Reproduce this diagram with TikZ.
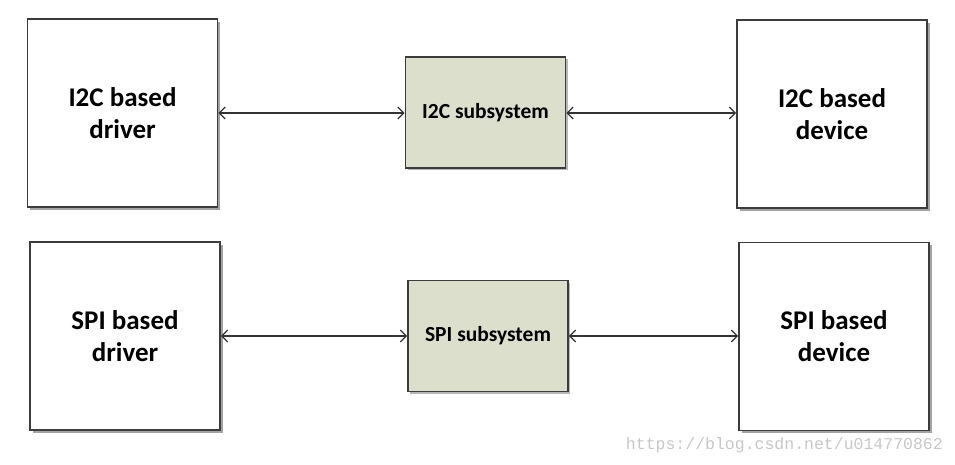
\documentclass[tikz,border=0pt]{standalone}
\usepackage{fontspec}
\setmainfont{Carlito}
\newfontfamily\markfont{Liberation Mono}
\usetikzlibrary{arrows.meta, shadows}
\definecolor{subFill}{RGB}{221,223,205}
\definecolor{boxLine}{RGB}{60,60,60}

\begin{document}
\begin{tikzpicture}[
		x=1pt, y=-1pt,
		bigbox/.style={draw=boxLine, line width=1.6pt, fill=white, minimum width=190pt, minimum height=188pt, align=center, font=\fontsize{27}{32}\selectfont\bfseries, drop shadow={shadow xshift=2.5pt, shadow yshift=-2.5pt, fill=black!45, opacity=0.8}},
		subbox/.style={draw=boxLine, line width=1.6pt, fill=subFill, minimum width=160pt, minimum height=111pt, font=\fontsize{21.5}{25}\selectfont\bfseries, drop shadow={shadow xshift=2pt, shadow yshift=-2pt, fill=black!40, opacity=0.7}},
		link/.style={{Straight Barb[length=6pt, width=12pt]}-{Straight Barb[length=6pt, width=12pt]}, line width=1.3pt, black!80}
	]
	\useasboundingbox (0,0) rectangle (955,464);

	% I2C row
	\node[bigbox] (i2cdrv) at (122.5,113) {I2C based\\driver};
	\node[subbox] (i2csub) at (485.5,112.5) {I2C subsystem};
	\node[bigbox] (i2cdev) at (832,114) {I2C based\\device};

	% SPI row
	\node[bigbox] (spidrv) at (125,336) {SPI based\\driver};
	\node[subbox] (spisub) at (488,336) {SPI subsystem};
	\node[bigbox] (spidev) at (834,336.5) {SPI based\\device};

	\draw[link] (i2cdrv.east |- 0,113) -- (i2csub.west |- 0,113);
	\draw[link] (i2csub.east |- 0,113) -- (i2cdev.west |- 0,113);
	\draw[link] (spidrv.east |- 0,336) -- (spisub.west |- 0,336);
	\draw[link] (spisub.east |- 0,336) -- (spidev.west |- 0,336);

	\node[anchor=base east, text=black!22, font=\markfont\fontsize{16.5}{18}\selectfont, inner sep=0pt] (mark) at (943,449) {https://blog.csdn.net/u014770862};
\end{tikzpicture}
\end{document}
